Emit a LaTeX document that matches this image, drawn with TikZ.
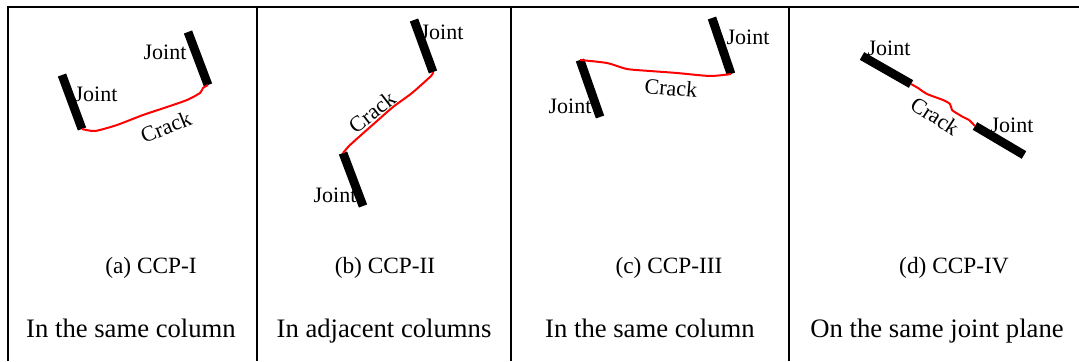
\documentclass[tikz,border=0pt]{standalone}
\usepackage{fontspec}
\setmainfont{Liberation Serif}
\begin{document}
\begin{tikzpicture}[x=0.75pt,y=-0.75pt,
  frame/.style={line width=1.9pt,black},
  jointbar/.style={line width=6.6pt,black,line cap=butt},
  crack/.style={red,line width=1.5pt,line join=round},
  jlabel/.style={inner sep=0pt,font=\fontsize{16.5}{19}\selectfont},
  caplabel/.style={inner sep=0pt,font=\fontsize{17.5}{21}\selectfont},
  desclabel/.style={inner sep=0pt,font=\fontsize{20}{24}\selectfont}]
\useasboundingbox (0,0) rectangle (1079,361);
% frame
\draw[frame] (8,361) -- (8,7) -- (1079,7);
\draw[frame] (257,7) -- (257,361);
\draw[frame] (511,7) -- (511,361);
\draw[frame] (789,7) -- (789,361);
% ---------- (a)
\coordinate (a1t) at (62,75);  \coordinate (a1b) at (82,129);
\coordinate (a2t) at (188,32); \coordinate (a2b) at (208,85);
\draw[jointbar] (a1t) -- (a1b);
\draw[jointbar] (a2t) -- (a2b);
\draw[crack] plot[smooth,tension=0.4] coordinates {(a1b) (95,131) (117,125) (143,115) (167,107) (187,100) (200,93) (203,88) (a2b)};
\node[jlabel] (aj1) at (96,94) {Joint};
\node[jlabel] (aj2) at (165,52) {Joint};
\node[jlabel,rotate=22] (ac) at (166,127) {Crack};
% ---------- (b)
\coordinate (b1t) at (414,20);  \coordinate (b1b) at (433,72);
\coordinate (b2t) at (343,153); \coordinate (b2b) at (363,206);
\draw[jointbar] (b1t) -- (b1b);
\draw[jointbar] (b2t) -- (b2b);
\draw[crack] plot[smooth,tension=0.4] coordinates {(b1b) (431,76) (412,93) (393,107) (377,121) (360,136) (349,146) (b2t)};
\node[jlabel] (bj1) at (442,32) {Joint};
\node[jlabel] (bj2) at (335,195) {Joint};
\node[jlabel,rotate=38] (bc) at (372,112) {Crack};
% ---------- (c)
\coordinate (c1t) at (580,60);  \coordinate (c1b) at (600,117);
\coordinate (c2t) at (712,18);  \coordinate (c2b) at (731,74);
\draw[jointbar] (c1t) -- (c1b);
\draw[jointbar] (c2t) -- (c2b);
\draw[crack] plot[smooth,tension=0.4] coordinates {(c1t) (607,63) (627,69) (650,71) (677,73) (710,76) (c2b)};
\node[jlabel] (cj1) at (570,106) {Joint};
\node[jlabel] (cj2) at (748,37) {Joint};
\node[jlabel,rotate=-5] (cc) at (671,88) {Crack};
% ---------- (d)
\coordinate (d1t) at (862,56);  \coordinate (d1b) at (911,84);
\coordinate (d2t) at (975,126); \coordinate (d2b) at (1024,155);
\draw[jointbar] (d1t) -- (d1b);
\draw[jointbar] (d2t) -- (d2b);
\draw[crack] plot[smooth,tension=0.4] coordinates {(d1b) (918,88) (927,94) (943,100) (950,104) (952,110) (958,114) (963,117) (969,120) (d2t)};
\node[jlabel] (dj1) at (889,48) {Joint};
\node[jlabel] (dj2) at (1012,125) {Joint};
\node[jlabel,rotate=-33] (dc) at (935,116) {Crack};
% ---------- captions
\node[caplabel] (capa) at (151,268) {(a) CCP-I};
\node[caplabel] (capb) at (385,268) {(b) CCP-II};
\node[caplabel] (capc) at (669,268) {(c) CCP-III};
\node[caplabel] (capd) at (954,268) {(d) CCP-IV};
\node[desclabel,anchor=base] (desa) at (131,337) {In the same column};
\node[desclabel,anchor=base] (desb) at (384,337) {In adjacent columns};
\node[desclabel,anchor=base] (desc) at (650,337) {In the same column};
\node[desclabel,anchor=base] (desd) at (937,337) {On the same joint plane};
\end{tikzpicture}
\end{document}
